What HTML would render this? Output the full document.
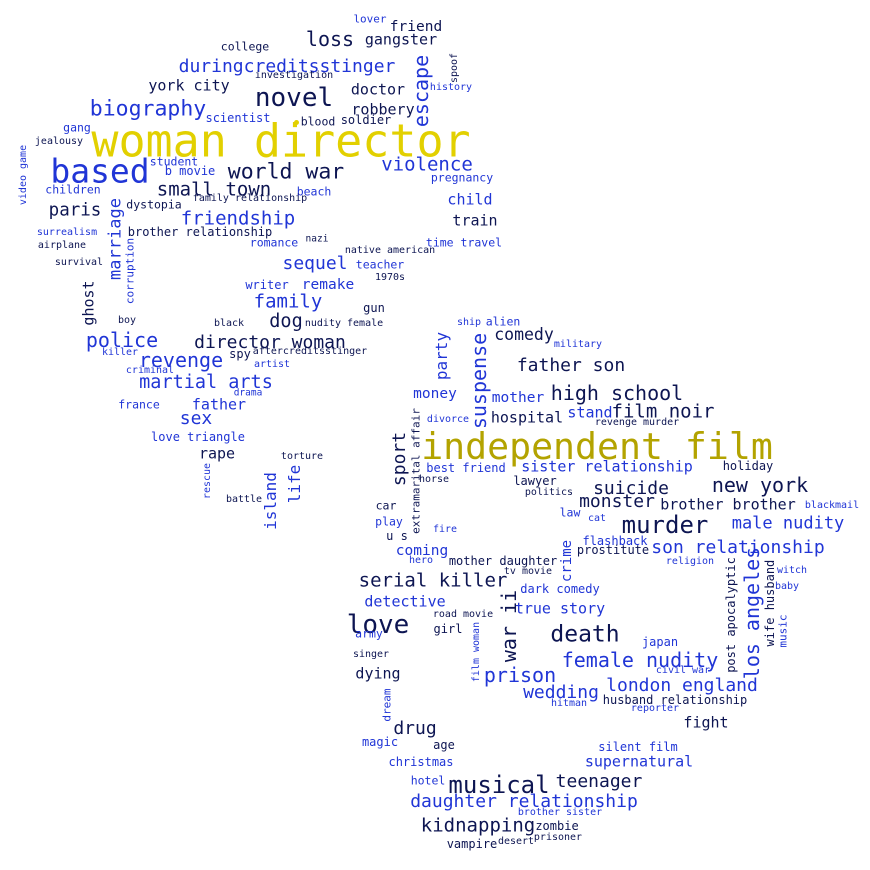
<!DOCTYPE html>
<html><head><meta charset="utf-8">
<style>
html,body{margin:0;padding:0;background:#fff;}
#cloud{position:relative;width:870px;height:870px;overflow:hidden;background:#fff;font-family:"DejaVu Sans Mono","Liberation Mono",monospace;}
.w{position:absolute;white-space:nowrap;line-height:1;transform-origin:center center;}
</style></head>
<body>
<div id="cloud"></div>
<script>
const colors = {n:"#0d1552", b:"#2035d6", m:"#1e2fa8", y:"#e2d000", o:"#b3a300"};
// [word, centerX, centerY, fontSize, colorKey, rotated]
const words = [
["woman director",281,141,45,"y",0],["independent film",597,447,36.5,"o",0],["based",100,171,33,"b",0],
["novel",294,98,26,"n",0],["biography",148,109,21.5,"b",0],["world war",286,172,21.5,"n",0],
["duringcreditsstinger",287,67,18,"b",0],["loss",330,39,20,"n",0],["gangster",401,40,15,"n",0],
["friend",416,27,14.5,"n",0],["lover",370,19,11,"b",0],["college",245,47,11.5,"n",0],["york city",189,86,15,"n",0],
["investigation",294,76,10,"n",0],["doctor",378,90,15,"n",0],["escape",421,91,20,"b",1],["spoof",455,68,10,"n",1],
["history",451,88,10,"b",0],["robbery",383,110,15,"n",0],["scientist",238,118,12,"b",0],["blood",318,122,11.5,"n",0],
["soldier",366,120,12,"n",0],["gang",77,128,11.5,"b",0],["jealousy",59,142,10,"n",0],["video game",24,175,10,"b",1],
["student",174,162,11.5,"b",0],["violence",427,165,19,"b",0],["b movie",190,171,12,"b",0],["pregnancy",462,178,11.5,"b",0],
["small town",214,190,19,"n",0],["children",73,190,11.5,"b",0],["beach",314,192,11.5,"b",0],["family relationship",250,199,10,"n",0],
["paris",75,211,17.5,"n",0],["dystopia",154,205,11.5,"n",0],["marriage",116,239,17,"b",1],["child",470,200,15,"b",0],
["friendship",238,219,19,"b",0],["train",475,221,15,"n",0],["brother relationship",200,232,12,"n",0],["surrealism",67,233,10,"b",0],
["romance",274,243,11.5,"b",0],["nazi",317,239,9.5,"n",0],["airplane",62,246,10,"n",0],["corruption",130,271,11,"b",1],
["time travel",464,243,11.5,"b",0],["native american",390,251,10,"n",0],["sequel",315,264,18,"b",0],["teacher",380,265,11.5,"b",0],
["survival",79,263,10,"n",0],["1970s",390,278,10,"n",0],["writer",267,285,12,"b",0],["remake",328,285,14.5,"b",0],
["ghost",89,303,15,"n",1],["family",288,302,19,"b",0],["gun",374,308,12,"n",0],["boy",127,321,10,"n",0],["dog",286,322,18.5,"n",0],
["nudity female",344,324,10,"n",0],["black",229,324,10,"n",0],["ship",469,323,10,"b",0],["alien",503,322,11.5,"b",0],
["comedy",524,335,16.5,"n",0],["killer",120,353,10,"b",0],["police",122,340,20,"b",0],["director woman",270,343,18,"n",0],
["party",442,356,16,"b",1],["military",578,345,10,"b",0],["suspense",479,381,20,"b",1],["spy",240,354,12,"n",0],
["aftercreditsstinger",310,352,10,"n",0],["revenge",181,360,20,"b",0],["artist",272,365,10,"b",0],["father son",571,366,18,"n",0],
["criminal",150,371,10,"b",0],["martial arts",206,383,18.5,"b",0],["mother",518,398,14.5,"b",0],["money",435,394,14.5,"b",0],
["drama",248,393,9.5,"b",0],["high school",617,393,20,"n",0],["extramarital affair",416,471,11,"n",1],["france",139,405,11.5,"b",0],
["father",219,405,15,"b",0],["hospital",527,418,15,"n",0],["stand",590,413,15,"b",0],["film noir",663,412,19,"n",0],
["sex",196,419,18,"b",0],["divorce",448,420,10,"b",0],["revenge murder",637,423,10,"n",0],["love triangle",198,437,12,"b",0],
["sport",400,459,18,"n",1],["rape",217,454,15,"n",0],["torture",302,457,10,"n",0],["holiday",748,466,12,"n",0],
["best friend",466,468,12,"b",0],["sister relationship",607,467,15,"b",0],["rescue",208,481,10,"b",1],["island",271,501,16,"b",1],
["life",295,484,16,"b",1],["horse",434,480,10,"n",0],["lawyer",535,481,12,"n",0],["new york",760,485,20,"n",0],
["suicide",631,489,18,"n",0],["politics",549,493,10,"n",0],["battle",244,500,10,"n",0],["monster",617,502,18,"n",0],
["brother brother",728,505,15,"n",0],["blackmail",832,506,10,"b",0],["car",386,506,11.5,"n",0],["law",570,513,11.5,"b",0],
["cat",597,519,10,"b",0],["play",389,522,11.5,"b",0],["murder",665,525,24,"n",0],["male nudity",788,524,17,"b",0],
["fire",445,530,10,"b",0],["u s",397,536,12,"n",0],["flashback",615,541,12,"b",0],["crime",567,561,14,"b",1],
["son relationship",738,548,18,"b",0],["coming",422,551,14.5,"b",0],["prostitute",613,550,12,"n",0],["hero",421,561,10,"b",0],
["mother daughter",503,561,12,"n",0],["religion",690,562,10,"b",0],["los angeles",752,613,20,"b",1],["post apocalyptic",731,615,12,"n",1],
["husband",770,585,12,"n",1],["wife",770,632,12,"n",1],["music",783,631,11,"b",1],["witch",792,571,10,"b",0],
["tv movie",528,572,10,"n",0],["serial killer",433,581,19,"n",0],["baby",787,587,10,"b",0],["dark comedy",560,589,12,"b",0],
["detective",405,602,15,"b",0],["true story",560,609,15,"b",0],["war ii",509,626,20,"n",1],["road movie",463,615,10,"n",0],
["love",378,625,26,"n",0],["girl",448,629,12,"n",0],["death",585,635,23,"n",0],["army",369,634,11.5,"b",0],["japan",660,642,12,"b",0],
["film woman",477,652,10,"b",1],["singer",371,655,10,"n",0],["female nudity",640,660,20,"b",0],["civil war",683,671,10,"b",0],
["prison",520,675,20,"b",0],["dying",378,674,15,"n",0],["london england",682,686,18,"b",0],["wedding",561,693,18,"b",0],
["dream",387,705,11,"b",1],["husband relationship",675,700,12,"n",0],["hitman",569,704,10,"b",0],["reporter",655,709,10,"b",0],
["fight",706,723,15,"n",0],["drug",415,729,18,"n",0],["magic",380,742,12,"b",0],["age",444,745,12,"n",0],
["silent film",638,747,12,"b",0],["christmas",421,762,12,"b",0],["supernatural",639,762,15,"b",0],["hotel",428,781,11.5,"b",0],
["musical",499,785,24,"n",0],["teenager",599,782,18,"n",0],["daughter relationship",524,802,18,"b",0],["brother sister",560,813,10,"b",0],
["kidnapping",478,826,19,"n",0],["zombie",557,826,12,"n",0],["prisoner",558,838,10,"n",0],["desert",516,842,10,"n",0],
["vampire",472,844,12,"n",0]
];
const cloud = document.getElementById('cloud');
for (const [t, x, y, s, c, r] of words) {
  const el = document.createElement('div');
  el.className = 'w';
  el.textContent = t;
  el.style.left = x + 'px';
  el.style.top = y + 'px';
  el.style.fontSize = s + 'px';
  el.style.color = colors[c];
  el.style.transform = 'translate(-50%,-50%)' + (r ? ' rotate(-90deg)' : '');
  
  
  cloud.appendChild(el);
}
const dot = document.createElement('div');
dot.style.cssText = 'position:absolute;left:294px;top:120px;width:5px;height:5px;border-radius:50%;background:#e2d000;';


cloud.appendChild(dot);
</script>
</body></html>
